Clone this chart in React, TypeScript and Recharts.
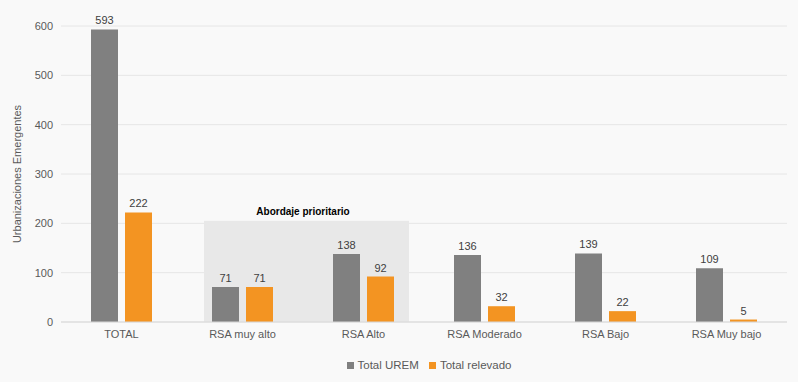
import {
  BarChart,
  Bar,
  XAxis,
  YAxis,
  CartesianGrid,
  Legend,
  LabelList,
  ReferenceArea,
} from "recharts";

const categories = ["TOTAL", "RSA muy alto", "RSA Alto", "RSA Moderado", "RSA Bajo", "RSA Muy bajo"];
const totalUrem = [593, 71, 138, 136, 139, 109];
const totalRelevado = [222, 71, 92, 32, 22, 5];
const yTicks = [0, 100, 200, 300, 400, 500, 600];

const data = categories.map((name, i) => ({
  name,
  urem: totalUrem[i],
  relevado: totalRelevado[i],
}));

const GRAY = "#808080";
const ORANGE = "#F39422";
const TEXT = "#595959";

// shaded box sits a bit inside the two category bands
const PriorityShape = (props: any) => {
  const { x, y, width, height } = props;
  return <rect x={x + 22} y={y} width={width - 37} height={height} fill="#e8e8e8" />;
};

export default function App() {
  return (
    <div
      style={{
        position: "absolute",
        left: 0,
        top: 0,
        width: 798,
        height: 382,
        background: "#f9f9f9",
        fontFamily: "'Liberation Sans', Arial, sans-serif",
      }}
    >
      <BarChart
        width={798}
        height={382}
        data={data}
        margin={{ top: 26, right: 11, left: 0, bottom: 0 }}
        barCategoryGap={30}
        barGap={7}
      >
        <CartesianGrid vertical={false} stroke="#e6e6e6" />
        <ReferenceArea
          x1="RSA muy alto"
          x2="RSA Alto"
          y1={0}
          y2={205}
          shape={PriorityShape}
          label={{
            value: "Abordaje prioritario",
            position: "top",
            offset: 6,
            fill: "#000",
            fontSize: 10,
            fontWeight: "bold",
          }}
        />
        <XAxis
          dataKey="name"
          height={24}
          tickLine={false}
          axisLine={{ stroke: "#d9d9d9" }}
          tick={{ fill: TEXT, fontSize: 11 }}
        />
        <YAxis
          width={61}
          domain={[0, 600]}
          ticks={yTicks}
          tickLine={false}
          axisLine={false}
          tick={{ fill: TEXT, fontSize: 11 }}
          label={{
            value: "Urbanizaciones Emergentes",
            angle: -90,
            position: "insideLeft",
            offset: 17,
            style: { textAnchor: "middle", fill: TEXT, fontSize: 11 },
          }}
        />
        <Legend
          verticalAlign="bottom"
          height={36}
          iconType="square"
          iconSize={7}
          wrapperStyle={{
            left: 0,
            width: 798,
            height: 36,
            boxSizing: "border-box",
            paddingTop: 13,
            paddingLeft: 70,
            fontSize: 11.5,
          }}
          formatter={(value) => <span style={{ color: TEXT }}>{value}</span>}
        />
        <Bar dataKey="urem" name="Total UREM" fill={GRAY} isAnimationActive={false}>
          <LabelList dataKey="urem" position="top" offset={5} fill="#404040" fontSize={11} />
        </Bar>
        <Bar dataKey="relevado" name="Total relevado" fill={ORANGE} isAnimationActive={false}>
          <LabelList dataKey="relevado" position="top" offset={5} fill="#404040" fontSize={11} />
        </Bar>
      </BarChart>
    </div>
  );
}
